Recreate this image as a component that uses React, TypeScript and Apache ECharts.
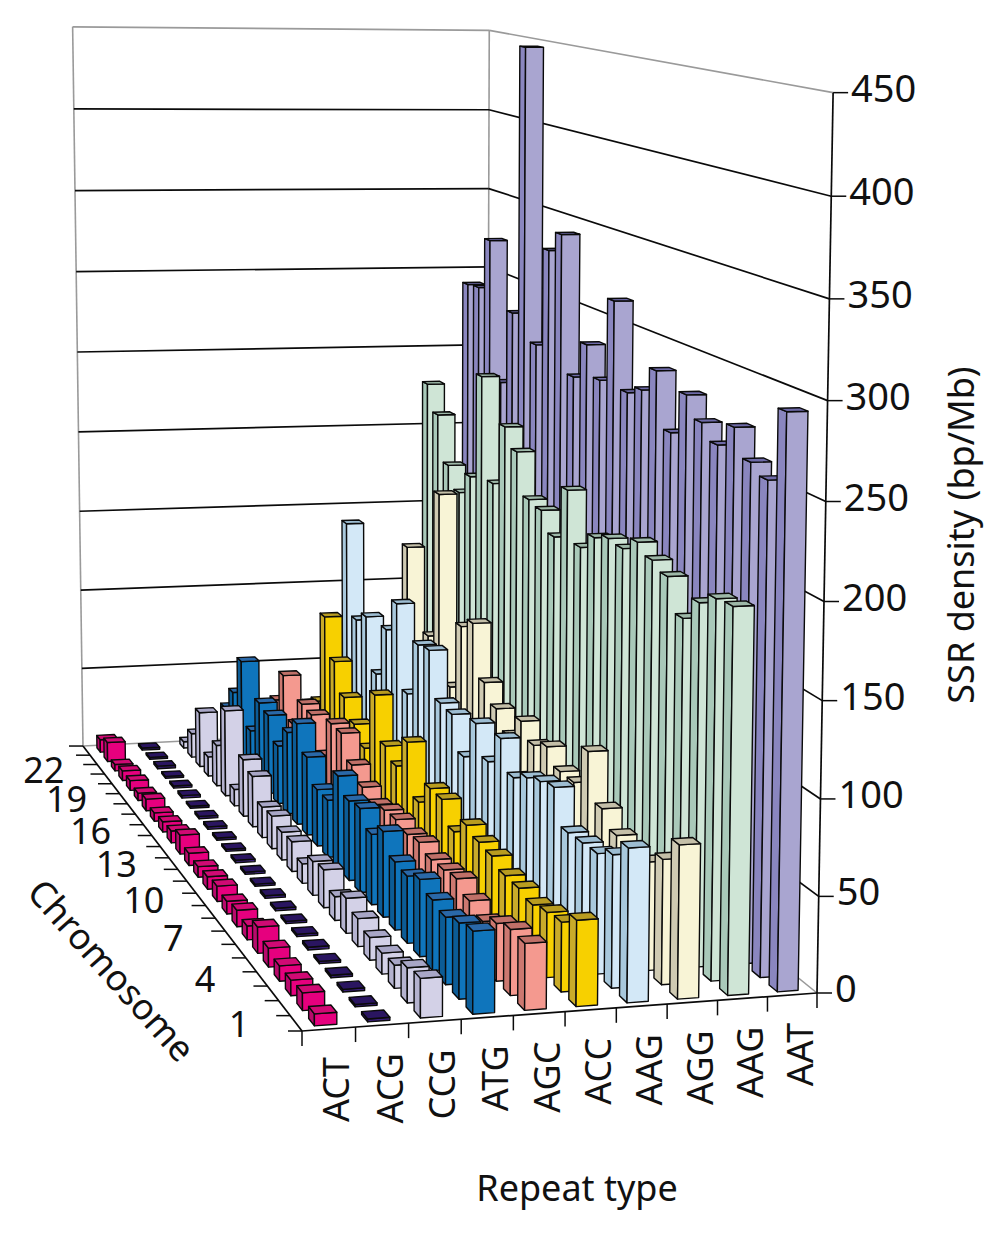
import React, { useEffect, useRef } from "react";
import * as echarts from "echarts";

const repeatTypes = ["ACT", "ACG", "CCG", "ATG", "AGC", "ACC", "AAG", "AGG", "AAG", "AAT"];
const chromosomeLabels = ["1", "4", "7", "10", "13", "16", "19", "22"];
const chromosomeLabelSlots = [1, 4, 7, 10, 13, 16, 19, 22];
const densityTicks = [0, 50, 100, 150, 200, 250, 300, 350, 400, 450];
const slots = 24; // chromosomes 1-22, X, Y

// values per repeat type, chromosome 1 .. 22, X, Y
const ACT = [6, 9, 8, 8, 10, 14, 7.5, 9, 7, 8.5, 7, 6, 7, 11, 7, 6, 5, 7, 4.5, 6, 6, 4, 12, 8];
const ACG = [1.5, 1.2, 1.4, 1.3, 1.2, 1.5, 1.3, 1.2, 1.4, 1.5, 1.2, 1.3, 1.4, 1.2, 1.3, 1.5, 1.4, 1.2, 1.5, 1.3, 1.2, 1.6, 1.2, 1.3];
const CCG = [20, 18, 12, 11, 12, 15, 19, 13, 21, 19, 11, 17, 16, 19, 18, 30, 34, 10, 52, 25, 12, 34, 15, 4];
const ATG = [42, 39, 35, 37, 41, 36, 37, 47, 39, 47, 45, 53, 33, 33, 46, 60, 49, 35, 48, 50, 27, 65, 40, 25];
const AGC = [34, 34, 30, 24, 28, 33, 31, 30, 33, 31, 33, 32, 29, 33, 40, 53, 53, 28, 47, 48, 30, 55, 34, 25];
const ACC = [44, 36, 34, 31, 33, 33, 37, 38, 41, 31, 43, 43, 29, 58, 38, 44, 69, 31, 40, 51, 68, 91, 32, 25];
const AAG1 = [79, 69, 63, 62, 61, 79, 76, 72, 66, 82, 63, 79, 54, 73, 74, 100, 98, 63, 113, 92, 59, 90, 83, 140];
const AGG = [79, 65, 57, 44, 58, 66, 91, 68, 68, 76, 71, 79, 65, 75, 85, 115, 108, 66, 179, 87, 72, 133, 68, 56];
const AAG2 = [198, 197, 190, 177, 194, 198, 203, 195, 196, 192, 182, 210, 179, 190, 192, 216, 227, 189, 250, 185, 171, 184, 212, 228];
const AAT = [294, 256, 261, 275, 262, 270, 281, 257, 287, 273, 268, 316, 268, 285, 263, 343, 331, 272, 447, 285, 239, 324, 292, 291];

const rows = [ACT, ACG, CCG, ATG, AGC, ACC, AAG1, AGG, AAG2, AAT];
const frontColors = ["#E6007E", "#3A1F78", "#D3D1E7", "#0F75BC", "#F4998F", "#F7D000", "#D3E8F7", "#F8F4D6", "#CFE5D6", "#A9A5D0"];
const sideColors = ["#B80A6C", "#2A1560", "#B4B2CF", "#0C5C96", "#CC7870", "#C9AB2A", "#A8C8DC", "#CFCAB2", "#A9C9B9", "#8A86BF"];
const topColors = ["#D00A74", "#2A1560", "#A8A6C6", "#2A68A8", "#C07068", "#B89C20", "#9DBDD2", "#C4BFA8", "#9DB8A8", "#6E6AA8"];

const FONT = '"Noto Sans", sans-serif';
const MAX = 450;

function project(u: number, v: number, val: number): number[] {
  const h = val / MAX;
  const w = 0.04414 * u + 0.3108 * v - 0.04 * h + 1;
  return [
    (551.06 * u - 193.2 * v - 16.5 * h + 302) / w,
    (5.83 * u - 53.1 * v - 943.8 * h + 1031) / w,
  ];
}

const line = (a: number[], b: number[], color: string, width: number) => ({
  type: "line",
  shape: { x1: a[0], y1: a[1], x2: b[0], y2: b[1] },
  style: { stroke: color, lineWidth: width, fill: "none" },
});

const barWidth = 0.42;
const barDepth = 0.48;

function barRenderer(rowIndex: number) {
  return (_: any, api: any) => {
    const slot = api.value(0);
    const val = api.value(1);
    const uc = (rowIndex + 0.5) / repeatTypes.length;
    const vc = (slot - 0.5) / slots;
    const du = (barWidth / repeatTypes.length) / 2;
    const dv = (barDepth / slots) / 2;
    const u0 = uc - du, u1 = uc + du, v0 = vc - dv, v1 = vc + dv;
    const face = (pts: number[][], fill: string) => ({
      type: "polygon",
      shape: { points: pts },
      style: { fill, stroke: "#0A0A0A", lineWidth: 1.4, lineJoin: "round" },
    });
    return {
      type: "group",
      children: [
        face([project(u0, v0, 0), project(u0, v1, 0), project(u0, v1, val), project(u0, v0, val)], sideColors[rowIndex]),
        face([project(u0, v0, 0), project(u1, v0, 0), project(u1, v0, val), project(u0, v0, val)], frontColors[rowIndex]),
        face([project(u0, v0, val), project(u1, v0, val), project(u1, v1, val), project(u0, v1, val)], topColors[rowIndex]),
      ],
    };
  };
}

function frameRenderer(params: any, api: any) {
  const val = api.value(0);
  const children: any[] = [];
  const isEdge = val === 0 || val === MAX;
  const color = isEdge ? "#9A9A9A" : "#0A0A0A";
  children.push(line(project(0, 1, val), project(1, 1, val), color, isEdge ? 1.6 : 1.7));
  children.push(line(project(1, 1, val), project(1, 0, val), color, isEdge ? 1.6 : 1.7));
  if (params.dataIndex === 0) {
    children.push(line(project(0, 1, 0), project(0, 1, MAX), "#9A9A9A", 1.6));
    children.push(line(project(1, 1, 0), project(1, 1, MAX), "#9A9A9A", 1.6));
  }
  return { type: "group", children };
}

function axisRenderer(params: any) {
  const children: any[] = [];
  if (params.dataIndex !== 0) return { type: "group", children };
  children.push(line(project(0, 0, 0), project(1, 0, 0), "#0A0A0A", 1.7));
  children.push(line(project(0, 0, 0), project(0, 1, 0), "#0A0A0A", 1.7));
  children.push(line(project(1, 0, 0), project(1, 0, MAX), "#0A0A0A", 1.7));
  for (let k = 0; k <= repeatTypes.length; k++) {
    const p = project(k / repeatTypes.length, 0, 0);
    children.push(line(p, [p[0], p[1] + 15], "#0A0A0A", 1.5));
  }
  for (let k = 0; k <= slots; k++) {
    const p = project(0, k / slots, 0);
    children.push(line(p, [p[0] - 14, p[1]], "#0A0A0A", 1.5));
  }
  densityTicks.forEach((t) => {
    const p = project(1, 0, t);
    children.push(line(p, [p[0] + 15, p[1]], "#0A0A0A", 1.5));
    children.push({
      type: "text", x: p[0] + 18, y: p[1] - 6,
      style: { text: String(t), font: `38px ${FONT}`, fill: "#111", align: "left", verticalAlign: "middle" },
    });
  });
  repeatTypes.forEach((r, i) => {
    const p = project((i + 0.5) / repeatTypes.length, 0, 0);
    children.push({
      type: "text", x: p[0] + 7, y: p[1] + 28, rotation: Math.PI / 2,
      style: { text: r, font: `36px ${FONT}`, fill: "#111", align: "right", verticalAlign: "middle" },
    });
  });
  chromosomeLabels.forEach((c, i) => {
    const p = project(0, (chromosomeLabelSlots[i] - 0.5) / slots, 0);
    children.push({
      type: "text", x: p[0] - 57, y: p[1], 
      style: { text: c, font: `36px ${FONT}`, fill: "#111", align: "center", verticalAlign: "middle" },
    });
  });
  children.push({
    type: "text", x: 960, y: 535, rotation: Math.PI / 2,
    style: { text: "SSR density (bp/Mb)", font: `36px ${FONT}`, fill: "#111", align: "center", verticalAlign: "middle" },
  });
  children.push({
    type: "text", x: 577, y: 1187,
    style: { text: "Repeat type", font: `36px ${FONT}`, fill: "#111", align: "center", verticalAlign: "middle" },
  });
  children.push({
    type: "text", x: 112, y: 970, rotation: -0.84,
    style: { text: "Chromosome", font: `36px ${FONT}`, fill: "#111", align: "center", verticalAlign: "middle" },
  });
  return { type: "group", children };
}

export default function App() {
  const ref = useRef<HTMLDivElement>(null);
  useEffect(() => {
    const chart = echarts.init(ref.current!, undefined, { renderer: "svg" });
    const barSeries = rows
      .map((row, i) => ({
        type: "custom",
        name: repeatTypes[i],
        coordinateSystem: "none",
        silent: true,
        clip: false,
        renderItem: barRenderer(i),
        data: row.map((v, k) => [k + 1, v]).reverse(),
      }))
      .reverse();
    chart.setOption({
      animation: false,
      backgroundColor: "#fff",
      series: [
        { type: "custom", name: "walls", coordinateSystem: "none", silent: true, clip: false, renderItem: frameRenderer, data: densityTicks.map((t) => [t]) },
        { type: "custom", name: "axes", coordinateSystem: "none", silent: true, clip: false, renderItem: axisRenderer, data: [[0]] },
        ...barSeries,
      ],
    });
    return () => chart.dispose();
  }, []);
  return <div ref={ref} style={{ position: "absolute", left: 0, top: 0, width: 1000, height: 1258 }} />;
}
